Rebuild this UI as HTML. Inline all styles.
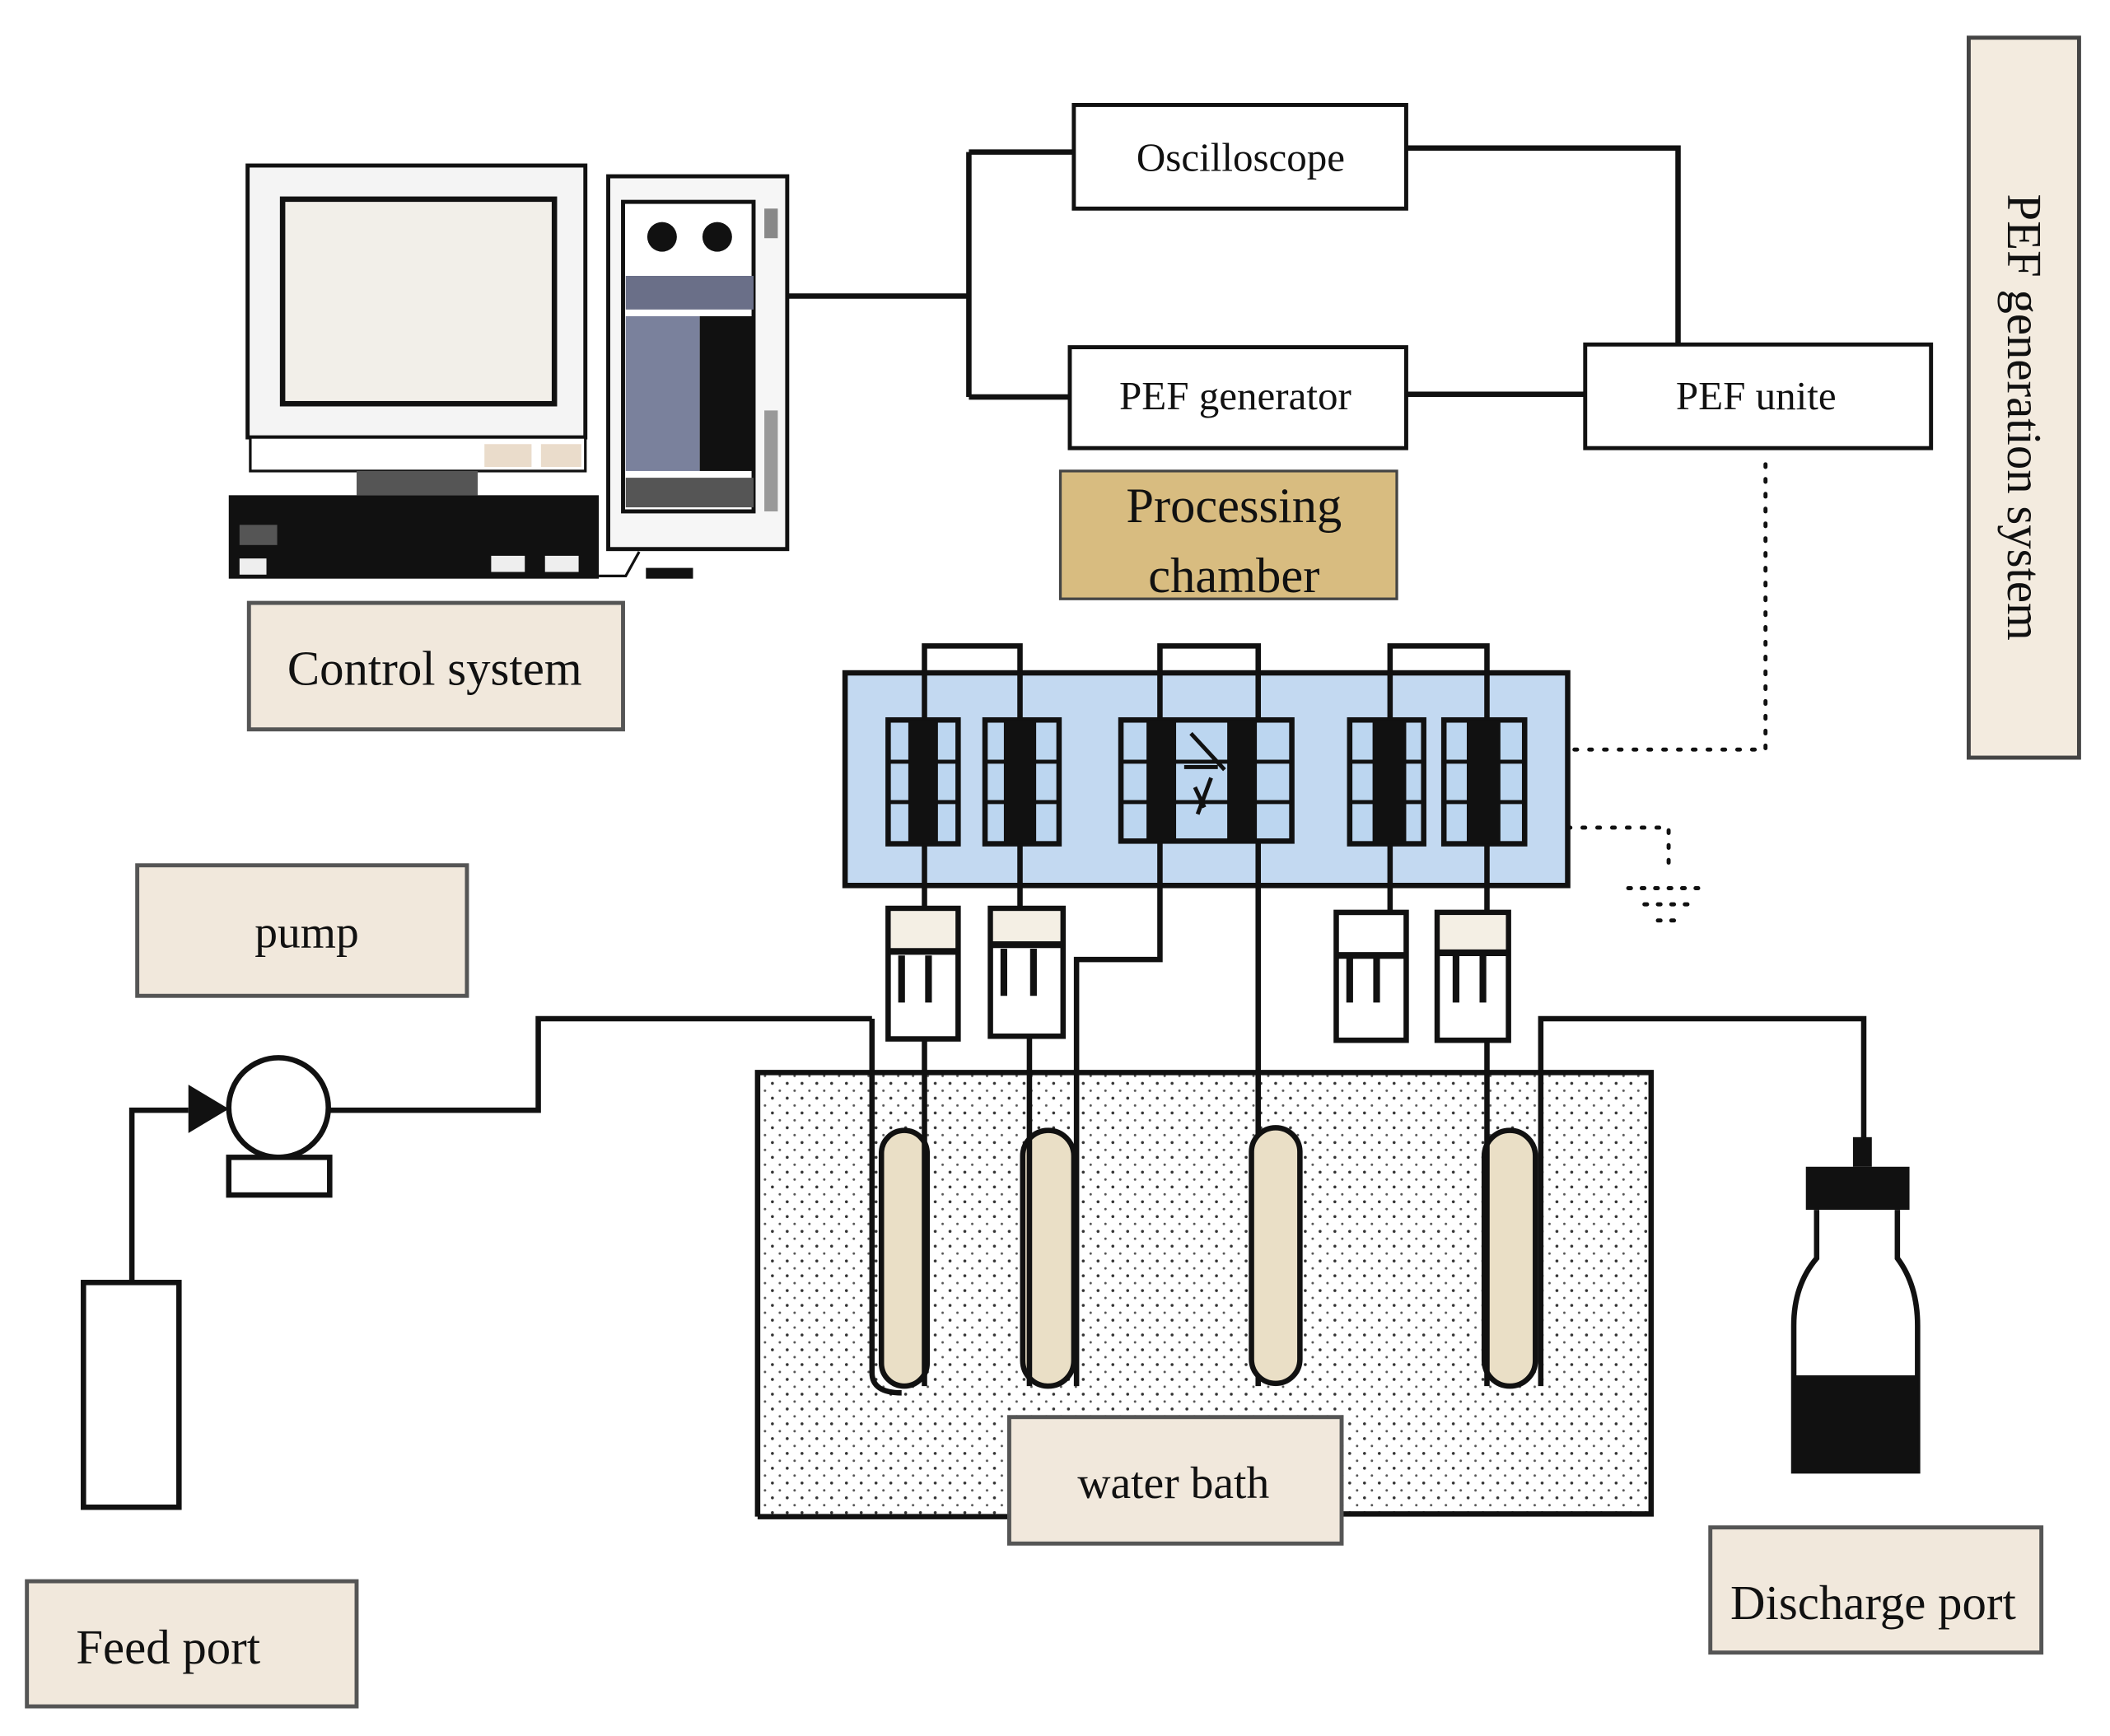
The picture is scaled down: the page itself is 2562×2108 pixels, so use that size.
<!DOCTYPE html>
<html><head><style>
html,body{margin:0;padding:0;background:#fff;}
svg{display:block;}
text{font-family:"Liberation Serif",serif;fill:#111;}
</style></head><body>
<svg width="2562" height="2108" viewBox="0 0 1568 1290" preserveAspectRatio="none" xmlns="http://www.w3.org/2000/svg">
<defs>
<pattern id="dots" width="11" height="11" patternUnits="userSpaceOnUse">
<circle cx="2" cy="2" r="1.1" fill="#333"/><circle cx="7.5" cy="7.5" r="0.9" fill="#555"/>
</pattern>
</defs>
<rect width="1568" height="1290" fill="#fff"/>
<g stroke="#111" fill="none" stroke-width="4">
<rect x="184" y="123" width="251" height="202" fill="#f4f4f4" stroke-width="3"/>
<rect x="210" y="148" width="202" height="152" fill="#f2efe9" stroke-width="4"/>
<rect x="186" y="325" width="249" height="25" fill="#fff" stroke-width="2"/>
<rect x="265" y="350" width="90" height="18" fill="#555" stroke="none"/>
<rect x="360" y="330" width="35" height="17" fill="#eadccb" stroke="none"/>
<rect x="402" y="330" width="30" height="17" fill="#eadccb" stroke="none"/>
<rect x="170" y="368" width="275" height="62" fill="#111" stroke="none"/>
<rect x="178" y="390" width="28" height="15" fill="#555" stroke="none"/>
<rect x="178" y="415" width="20" height="12" fill="#eee" stroke="none"/>
<rect x="365" y="413" width="25" height="12" fill="#eee" stroke="none"/>
<rect x="405" y="413" width="25" height="12" fill="#eee" stroke="none"/>
<path d="M445 428 L465 428 L475 410" stroke-width="2"/>
<rect x="480" y="422" width="35" height="8" fill="#111" stroke="none"/>
<rect x="452" y="131" width="133" height="277" fill="#f6f6f6" stroke-width="3"/>
<rect x="463" y="150" width="97" height="230" fill="#fff" stroke-width="3"/>
<circle cx="492" cy="176" r="11" fill="#111" stroke="none"/>
<circle cx="533" cy="176" r="11" fill="#111" stroke="none"/>
<rect x="465" y="205" width="95" height="25" fill="#6a6f88" stroke="none"/>
<rect x="465" y="235" width="55" height="115" fill="#7a819c" stroke="none"/>
<rect x="520" y="235" width="40" height="115" fill="#111" stroke="none"/>
<rect x="465" y="355" width="95" height="22" fill="#555" stroke="none"/>
<rect x="568" y="155" width="10" height="22" fill="#888" stroke="none"/>
<rect x="568" y="305" width="10" height="75" fill="#999" stroke="none"/>
<path d="M585 220 H720 M720 113 V295 M720 113 H798 M720 295 H795"/>
<path d="M1045 110 H1247 V256 M1045 293 H1178"/>
<rect x="798" y="78" width="247" height="77" fill="#fff" stroke-width="3"/>
<rect x="795" y="258" width="250" height="75" fill="#fff" stroke-width="3"/>
<rect x="1178" y="256" width="257" height="77" fill="#fff" stroke-width="3"/>
<rect x="788" y="350" width="250" height="95" fill="#d8bc80" stroke="#444" stroke-width="2"/>
<rect x="1463" y="28" width="82" height="535" fill="#f3ebdf" stroke="#444" stroke-width="3"/>
<rect x="185" y="448" width="278" height="94" fill="#f1e8dc" stroke="#555" stroke-width="3"/>
<rect x="102" y="643" width="245" height="97" fill="#f1e8dc" stroke="#555" stroke-width="3"/>
<rect x="20" y="1175" width="245" height="93" fill="#f1e8dc" stroke="#555" stroke-width="3"/>
<rect x="1271" y="1135" width="246" height="93" fill="#f1e8dc" stroke="#555" stroke-width="3"/>
<path d="M1312 345 V557 H1165 M1165 615 H1240 V645" stroke-dasharray="2 9" stroke-width="3" stroke-linecap="round"/>
<path d="M1210 660 H1265 M1222 672 H1255 M1232 684 H1245" stroke-dasharray="2 8" stroke-width="3" stroke-linecap="round"/>
<rect x="628" y="500" width="537" height="158" fill="#c3d9f1" stroke-width="4"/>
<path d="M687 675 V480 H758 V675 M862 625 V480 H935 V625 M1033 678 V480 H1105 V678"/>
</g>
<g stroke="#111" stroke-width="4" fill="#bcd6f0">
<rect x="660" y="535" width="52" height="92"/>
<rect x="732" y="535" width="55" height="92"/>
<rect x="833" y="535" width="127" height="90"/>
<rect x="1003" y="535" width="55" height="92"/>
<rect x="1073" y="535" width="60" height="92"/>
<path d="M660 566 H712 M660 596 H712 M732 566 H787 M732 596 H787 M833 566 H960 M833 596 H960 M1003 566 H1058 M1003 596 H1058 M1073 566 H1133 M1073 596 H1133" fill="none" stroke-width="3"/>
</g>
<g fill="#111">
<rect x="675" y="535" width="22" height="92"/><rect x="746" y="535" width="24" height="92"/>
<rect x="852" y="535" width="22" height="90"/><rect x="912" y="535" width="22" height="90"/>
<rect x="1020" y="535" width="25" height="92"/><rect x="1090" y="535" width="25" height="92"/>
</g>
<path d="M885 545 L910 572 M880 570 H905 M888 585 L895 600 M900 578 L890 605" stroke="#111" stroke-width="3" fill="none"/>
<rect x="563" y="797" width="664" height="330" fill="url(#dots)"/>
<path d="M563 1127 V797 H1227 V1127 M563 1127 H750 M997 1125 H1227" stroke="#111" stroke-width="4" fill="none"/>
<g stroke="#111" stroke-width="4" fill="none">
<path d="M862 625 V713 H800 V1030 M935 625 V1030"/>
<path d="M1000 770 V713 H1020"/>
<rect x="660" y="675" width="52" height="97" fill="#fff"/>
<rect x="736" y="675" width="54" height="95" fill="#fff"/>
<rect x="993" y="678" width="52" height="95" fill="#fff"/>
<rect x="1068" y="678" width="53" height="95" fill="#fff"/>
</g>
<g fill="#f4efe4"><rect x="662" y="677" width="48" height="30"/><rect x="738" y="677" width="50" height="25"/><rect x="1070" y="680" width="49" height="28"/></g>
<path d="M660 707 H712 M736 702 H790 M993 710 H1045 M1068 708 H1121 M670 710 V745 M690 710 V745 M746 705 V740 M768 705 V740 M1003 712 V745 M1023 712 V745 M1082 710 V745 M1102 710 V745" stroke="#111" stroke-width="5" fill="none"/>
<g stroke="#111" stroke-width="4" fill="#eadfc6">
<rect x="655" y="840" width="34" height="190" rx="17"/>
<rect x="760" y="840" width="38" height="190" rx="19"/>
<rect x="930" y="838" width="36" height="190" rx="18"/>
<rect x="1103" y="840" width="38" height="190" rx="19"/>
</g>
<g stroke="#111" stroke-width="4" fill="none">
<path d="M687 772 V1030 M765 770 V1030 M1105 773 V1030"/>
<path d="M648 757 V1020 Q648 1035 670 1035"/>
<path d="M98 1058 V825 H140 M245 825 H400 V757 H525 L648 757"/>
<path d="M1145 1030 V757 H1385 V850"/>
<circle cx="207" cy="823" r="37" fill="#fff"/>
<rect x="170" y="860" width="75" height="28" fill="#fff"/>
<rect x="62" y="953" width="71" height="167" fill="#fff"/>
</g>
<path d="M140 806 L170 824 L140 842 Z" fill="#111"/>
<rect x="1377" y="845" width="14" height="22" fill="#111"/>
<rect x="1342" y="867" width="77" height="32" fill="#111"/>
<path d="M1350 899 V935 Q1333 955 1333 985 V1093 H1425 V985 Q1425 955 1410 935 V899" stroke="#111" stroke-width="4" fill="#fff"/>
<rect x="1333" y="1022" width="92" height="71" fill="#111"/>
<rect x="750" y="1053" width="247" height="94" fill="#f1e8dc" stroke="#555" stroke-width="3"/>
<text x="922" y="127" font-size="30" text-anchor="middle">Oscilloscope</text>
<text x="918" y="304" font-size="30" text-anchor="middle">PEF generator</text>
<text x="1305" y="304" font-size="30" text-anchor="middle">PEF unite</text>
<text x="917" y="388" font-size="37" text-anchor="middle">Processing</text>
<text x="917" y="440" font-size="37" text-anchor="middle">chamber</text>
<text x="323" y="509" font-size="36" text-anchor="middle">Control system</text>
<text x="228" y="704" font-size="34" text-anchor="middle">pump</text>
<text x="125" y="1236" font-size="36" text-anchor="middle">Feed port</text>
<text x="1392" y="1203" font-size="36" text-anchor="middle">Discharge port</text>
<text x="872" y="1113" font-size="34" text-anchor="middle">water bath</text>
<text x="0" y="0" font-size="36" text-anchor="middle" transform="translate(1492 310) rotate(90)">PEF generation system</text>
</svg>
</body></html>
